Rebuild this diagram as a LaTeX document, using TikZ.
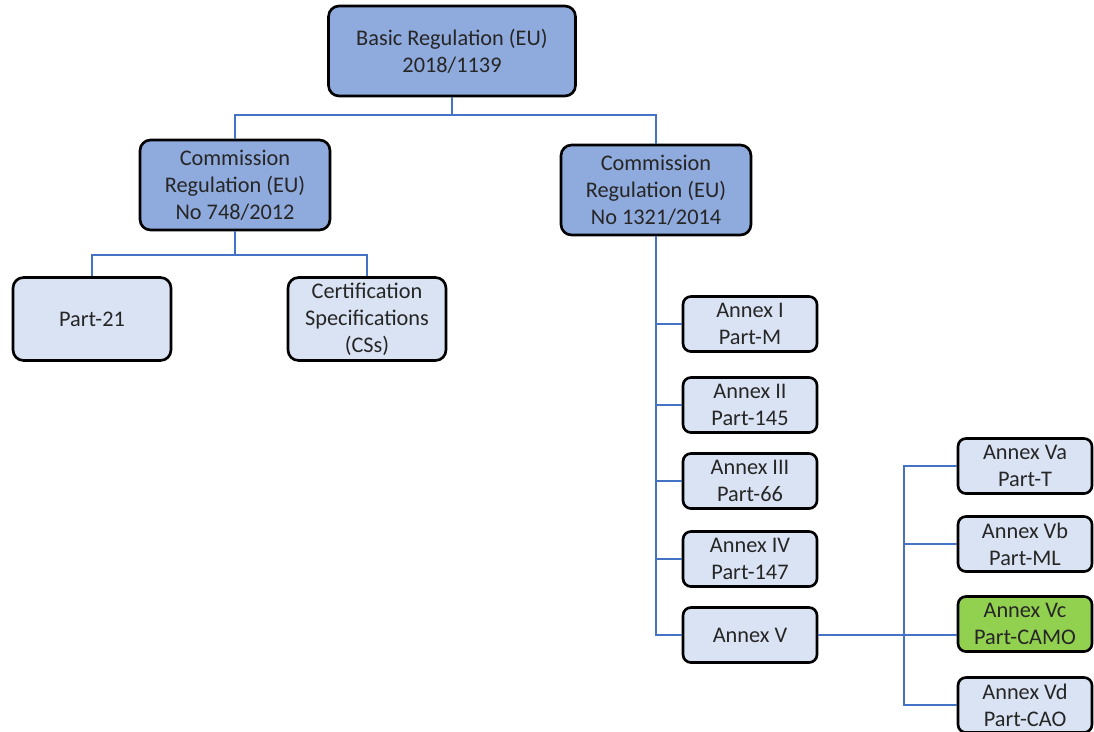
\documentclass[tikz,border=0pt]{standalone}
\usepackage{fontspec}
\setmainfont{Carlito}
\usepackage{tikz}
\usetikzlibrary{positioning,calc}
\usepackage{xcolor}
\definecolor{regdark}{HTML}{8FAADC}
\definecolor{reglight}{HTML}{DAE3F3}
\definecolor{reggreen}{HTML}{92D050}
\definecolor{linkblue}{HTML}{4472C4}

\begin{document}
\begin{tikzpicture}[x=0.02cm, y=-0.02cm,
  box/.style={rectangle, rounded corners=6pt, draw=black, line width=1.5pt, align=center,
    font=\fontsize{12.7}{15.3}\selectfont, text=black!85, inner sep=2pt},
  big/.style={box, fill=regdark, minimum width=3.8cm, minimum height=1.8cm},
  part/.style={box, fill=reglight, minimum width=3.16cm, minimum height=1.66cm},
  annex/.style={box, fill=reglight, rounded corners=4.5pt, minimum width=2.68cm, minimum height=1.1cm},
  link/.style={draw=linkblue, line width=1.5pt}]
\useasboundingbox (0,0) rectangle (1094,731);
\clip (0,0) rectangle (1094,731);
\node[big, minimum width=4.94cm] (basic) at (452,51) {Basic Regulation (EU)\\2018/1139};
\node[big] (cr748) at (235,185) {Commission\\Regulation (EU)\\No 748/2012};
\node[big] (cr1321) at (656,190) {Commission\\Regulation (EU)\\No 1321/2014};
\node[part] (p21) at (92,319) {Part-21};
\node[part] (css) at (367,319) {Certification\\Specifications\\(CSs)};
\node[annex] (annI) at (750,324) {Annex I\\Part-M};
\node[annex] (annII) at (750,405) {Annex II\\Part-145};
\node[annex] (annIII) at (750,481) {Annex III\\Part-66};
\node[annex] (annIV) at (750,559) {Annex IV\\Part-147};
\node[annex] (annV) at (750,635) {Annex V};
\node[annex] (annVa) at (1025,466) {Annex Va\\Part-T};
\node[annex] (annVb) at (1025,544) {Annex Vb\\Part-ML};
\node[annex, fill=reggreen] (annVc) at (1025,624) {Annex Vc\\Part-CAMO};
\node[annex] (annVd) at (1025,705) {Annex Vd\\Part-CAO};
\coordinate (j1) at (453,115);
\coordinate (j2) at (235,255);
\coordinate (k) at (904,636);
% top level
\draw[link] (basic.south) -- (basic.south |- j1);
\draw[link] (cr748.north) |- (j1) -| (cr1321.north);
% 748/2012
\draw[link] (cr748.south) -- (j2);
\draw[link] (p21.north) |- (j2) -| (css.north);
% 1321/2014
\draw[link] (cr1321.south) |- (annV.west);
\draw[link] (annI.west) -- (annI.west -| cr1321.south);
\draw[link] (annII.west) -- (annII.west -| cr1321.south);
\draw[link] (annIII.west) -- (annIII.west -| cr1321.south);
\draw[link] (annIV.west) -- (annIV.west -| cr1321.south);
% Annex V
\draw[link] (annV.east) -- (annV.east -| annVc.west);
\draw[link] (annVa.west) -| (k |- annVd.west) -- (annVd.west);
\draw[link] (annVb.west) -- (annVb.west -| k);
\end{tikzpicture}
\end{document}
